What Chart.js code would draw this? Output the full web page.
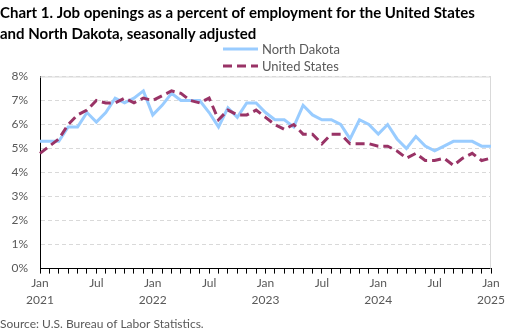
<!DOCTYPE html>
<html>
<head>
<meta charset="utf-8">
<script src="https://cdn.jsdelivr.net/npm/chart.js@4"></script>
<style>
  body { margin: 0; background: #fff; }
  #wrap { position: relative; width: 521px; height: 333px; }
  #legend { position: absolute; left: 223px; top: 40px; font: 13px Lato, sans-serif; color: #595959; }
  .item { display: flex; align-items: center; height: 17px; }
  .item svg { margin-right: 4px; }
</style>
</head>
<body>
<div id="wrap">
  <canvas id="grafik" width="521" height="333"></canvas>
  <div id="legend"></div>
</div>
<script>
const months = ['Jan', 'Feb', 'Mar', 'Apr', 'May', 'Jun', 'Jul', 'Aug', 'Sep', 'Oct', 'Nov', 'Dec'];
const years = ['2021', '2022', '2023', '2024', '2025'];

// Jan 2021 .. Jan 2025, percent
const northDakota = [
    5.3, 5.3, 5.3, 5.9, 5.9, 6.5, 6.1, 6.5, 7.1, 6.9, 7.1, 7.4,
    6.4, 6.8, 7.3, 7.0, 7.0, 7.0, 6.5, 5.9, 6.7, 6.3, 6.9, 6.9,
    6.5, 6.2, 6.2, 5.9, 6.8, 6.4, 6.2, 6.2, 6.0, 5.4, 6.2, 6.0,
    5.6, 6.0, 5.4, 5.0, 5.5, 5.1, 4.9, 5.1, 5.3, 5.3, 5.3, 5.1,
    5.1
];
const unitedStates = [
    4.8, 5.1, 5.4, 6.0, 6.4, 6.6, 7.0, 6.9, 6.9, 7.1, 6.9, 7.1,
    7.0, 7.2, 7.4, 7.3, 7.0, 6.9, 7.1, 6.2, 6.6, 6.4, 6.4, 6.6,
    6.3, 6.0, 5.8, 6.0, 5.6, 5.6, 5.2, 5.6, 5.6, 5.2, 5.2, 5.2,
    5.1, 5.1, 4.9, 4.6, 4.8, 4.5, 4.5, 4.6, 4.3, 4.6, 4.8, 4.5,
    4.6
];
const yTicks = [0, 1, 2, 3, 4, 5, 6, 7, 8];

const labels = [];
for (let i = 0; i < northDakota.length; i++) {
    labels.push(months[i % 12] + ' ' + years[Math.floor(i / 12)]);
}

const fontFam = 'Lato, "Open Sans", sans-serif';
const grey = '#595959';

const data = {
    labels: labels,
    datasets: [{
        label: 'North Dakota',
        data: northDakota,
        borderColor: '#99CCFF',
        borderWidth: 3,
        pointRadius: 0,
        tension: 0,
        order: 2
    }, {
        label: 'United States',
        data: unitedStates,
        borderColor: '#993366',
        borderWidth: 3,
        borderDash: [9, 5],
        pointRadius: 0,
        tension: 0,
        order: 1
    }]
};

// light grey frame round the plot area, like the Excel original
const plotFrame = {
    id: 'plotFrame',
    beforeDatasetsDraw(chart) {
        const a = chart.chartArea;
        const ctx = chart.ctx;
        ctx.save();
        ctx.strokeStyle = '#d9d9d9';
        ctx.lineWidth = 1;
        ctx.beginPath();
        ctx.moveTo(a.left, a.top + 0.5);
        ctx.lineTo(a.right - 0.5, a.top + 0.5);
        ctx.lineTo(a.right - 0.5, a.bottom);
        ctx.stroke();
        ctx.restore();
    }
};

const config = {
    type: 'line',
    data: data,
    plugins: [plotFrame],
    options: {
        responsive: false,
        animation: false,
        layout: { padding: { left: 0, right: 30, top: 0, bottom: 0 } },
        plugins: {
            legend: { display: false },
            tooltip: { enabled: false },
            title: {
                display: true,
                text: ['Chart 1. Job openings as a percent of employment for the United States',
                       'and North Dakota, seasonally adjusted'],
                align: 'start',
                color: '#000',
                font: { family: fontFam, size: 15, weight: 'bold', lineHeight: 1.45 },
                padding: { top: 2, bottom: 31 }
            },
            subtitle: {
                display: true,
                position: 'bottom',
                text: 'Source: U.S. Bureau of Labor Statistics.',
                align: 'start',
                color: grey,
                font: { family: fontFam, size: 12, lineHeight: 1.2 },
                padding: { top: 6, bottom: 2 }
            }
        },
        scales: {
            x: {
                grid: { drawOnChartArea: false, tickLength: 5, color: '#000' },
                border: { color: '#000', width: 1 },
                ticks: {
                    autoSkip: false,
                    maxRotation: 0,
                    padding: 1,
                    color: grey,
                    font: { family: fontFam, size: 12, lineHeight: 1.4 },
                    callback: function (value, index) {
                        const m = index % 12;
                        if (m === 0) return [months[0], years[index / 12]];
                        if (m === 6) return months[6];
                        return '';
                    }
                },
                afterFit: function (scale) { scale.height = 42; }
            },
            y: {
                min: 0,
                max: 8,
                afterBuildTicks: function (scale) {
                    scale.ticks = yTicks.map(v => ({ value: v }));
                },
                grid: { color: '#d9d9d9', drawTicks: false },
                border: { color: '#000', width: 1, dash: [4, 3] },
                ticks: {
                    padding: 12,
                    color: grey,
                    font: { family: fontFam, size: 12 },
                    callback: v => v + '%'
                },
                afterFit: function (scale) { scale.width = 40; }
            }
        }
    }
};

const myChart = new Chart(document.getElementById('grafik'), config);

// legend stacked vertically, as in the original
const legend = document.getElementById('legend');
data.datasets.forEach(ds => {
    const dash = ds.borderDash ? ds.borderDash.join(' ') : 'none';
    legend.insertAdjacentHTML('beforeend',
        '<div class="item"><svg width="35" height="4"><line x1="0" y1="2" x2="35" y2="2" stroke="' +
        ds.borderColor + '" stroke-width="3" stroke-dasharray="' + dash + '"/></svg>' + ds.label + '</div>');
});
</script>
</body>
</html>
